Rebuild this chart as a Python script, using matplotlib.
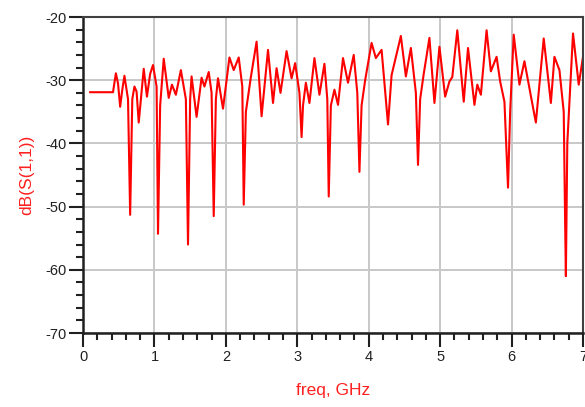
import matplotlib
matplotlib.use("Agg")
import matplotlib.pyplot as plt
from matplotlib.ticker import MultipleLocator

plt.rcParams['font.family'] = ['Liberation Sans', 'DejaVu Sans']
plt.rcParams['axes.unicode_minus'] = False

# S11 trace (freq in GHz, dB)
freq = [0.10, 0.42, 0.46, 0.49, 0.52, 0.55, 0.58, 0.63, 0.66, 0.69, 0.72, 0.75, 0.78,
        0.85, 0.895, 0.94, 0.98, 1.03, 1.05, 1.08, 1.13, 1.20, 1.245, 1.30,
        1.37, 1.44, 1.47, 1.50, 1.52, 1.59, 1.66, 1.70, 1.76, 1.80,
        1.83, 1.86, 1.89, 1.96, 2.05, 2.11, 2.18, 2.23, 2.25, 2.28,
        2.35, 2.43, 2.50, 2.59, 2.66, 2.71, 2.765, 2.85, 2.92, 2.97,
        3.03, 3.06, 3.08, 3.12, 3.17, 3.24, 3.31, 3.38, 3.42, 3.44,
        3.47, 3.52, 3.57, 3.64, 3.71, 3.79, 3.84, 3.87, 3.90, 3.95,
        4.04, 4.10, 4.18, 4.27, 4.32, 4.45, 4.52, 4.59, 4.66, 4.69,
        4.72, 4.77, 4.85, 4.92, 4.99, 5.07, 5.13, 5.17, 5.24, 5.33,
        5.39, 5.48, 5.52, 5.57, 5.65, 5.71, 5.79, 5.84, 5.90, 5.95,
        5.98, 6.03, 6.11, 6.18, 6.28, 6.34, 6.45, 6.55, 6.60, 6.67,
        6.73, 6.75, 6.76, 6.78, 6.86, 6.94, 7.00]
s11_db = [-31.9, -31.9, -28.9, -30.5, -34.2, -31.5, -29.3, -33.0, -51.3, -33.0, -31.0, -31.8, -36.7,
          -28.2, -32.6, -29.0, -27.6, -31.0, -54.3, -34.0, -26.6, -32.8, -30.7, -32.3,
          -28.4, -33.0, -56.0, -33.0, -29.4, -35.8, -29.6, -31.0, -28.7, -32.0,
          -51.5, -33.0, -29.7, -34.5, -26.4, -28.4, -26.4, -31.0, -49.7, -35.0,
          -29.5, -23.9, -35.7, -25.2, -33.6, -28.1, -32.0, -25.4, -29.7, -27.3,
          -32.0, -39.0, -34.0, -30.4, -33.6, -26.5, -32.3, -27.4, -33.0, -48.4,
          -34.0, -31.5, -33.9, -26.5, -30.4, -26.0, -32.0, -44.5, -34.0, -30.0,
          -24.1, -26.5, -25.2, -37.0, -29.2, -23.0, -29.4, -24.9, -32.0, -43.4,
          -33.0, -29.0, -23.3, -33.6, -24.7, -32.6, -30.2, -29.5, -22.1, -33.4,
          -24.9, -33.9, -30.7, -32.3, -22.1, -28.6, -26.3, -30.2, -33.4, -47.0,
          -35.0, -22.8, -30.7, -27.0, -33.1, -36.7, -23.4, -33.6, -26.3, -28.4,
          -35.0, -52.8, -61.0, -40.0, -22.6, -30.7, -26.3]

fig = plt.figure(figsize=(5.85, 4.07), dpi=100)
ax = fig.add_axes([0.1419, 0.1818, 0.8547, 0.7764])

ax.plot(freq, s11_db, color='#ff0000', linewidth=1.5)

ax.set_xlim(0, 7)
ax.set_ylim(-70, -20)
ax.xaxis.set_major_locator(MultipleLocator(1))
ax.xaxis.set_minor_locator(MultipleLocator(0.2))
ax.yaxis.set_major_locator(MultipleLocator(10))
ax.yaxis.set_minor_locator(MultipleLocator(2))

ax.grid(True, which='major', color='#c8c8c8', linewidth=1.4)
ax.set_axisbelow(True)

for side in ['left', 'bottom']:
    ax.spines[side].set_linewidth(1.8)
    ax.spines[side].set_color('#202020')
for side in ['top', 'right']:
    ax.spines[side].set_linewidth(1.5)
    ax.spines[side].set_color('#404040')

ax.tick_params(which='major', direction='out', length=10, width=1.5,
               color='#202020', labelsize=10.5, labelcolor='#202020', pad=2)
ax.tick_params(which='minor', direction='out', length=5, width=1.5,
               color='#202020')

ax.set_xlabel('freq, GHz', color='#ff2020', fontsize=12.5, labelpad=14)
ax.set_ylabel('dB(S(1,1))', color='#ff2020', fontsize=12.5, labelpad=8)

fig.savefig('out.png', dpi=100)
